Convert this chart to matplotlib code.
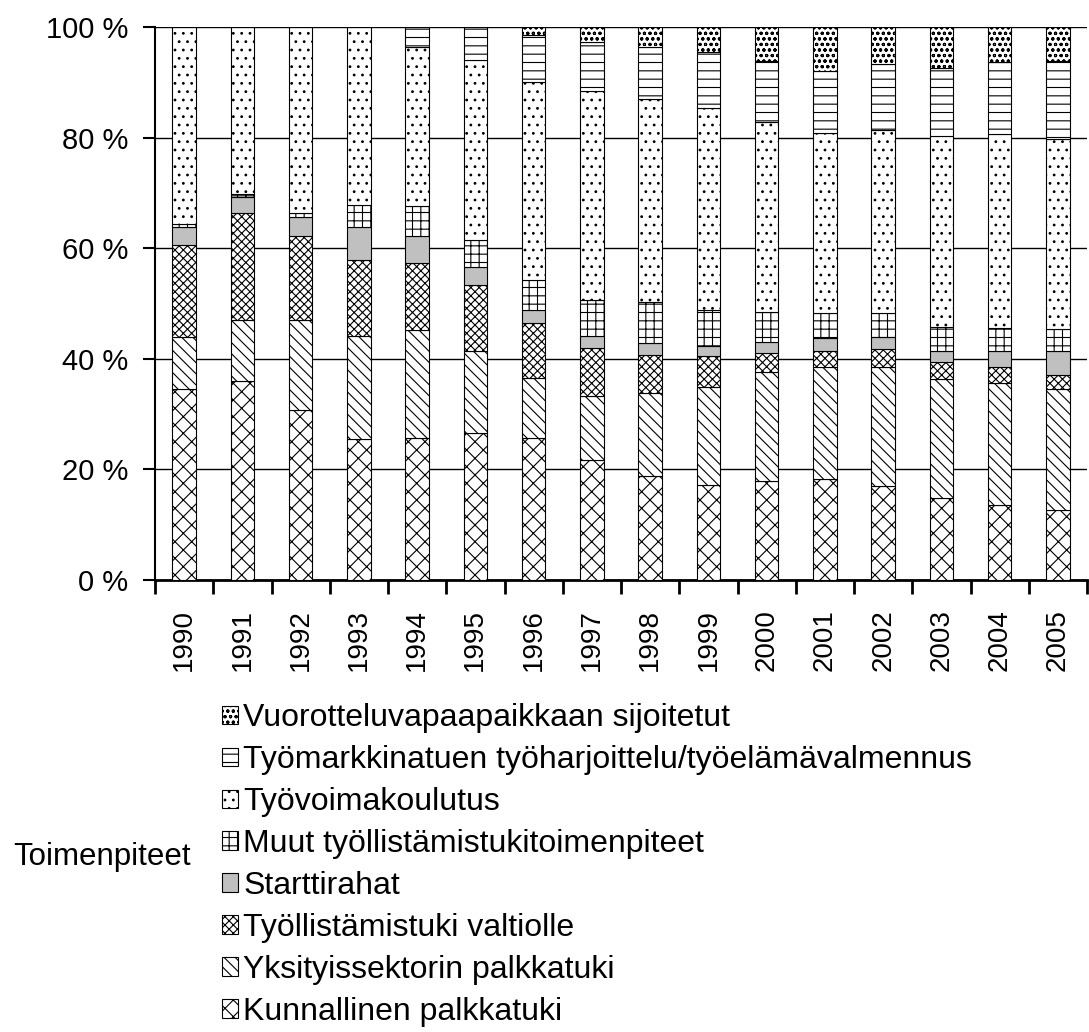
import matplotlib
matplotlib.use('Agg')
import matplotlib.pyplot as plt
import matplotlib.patches as patches
import numpy as np

plt.rcParams['font.family'] = ['Liberation Sans', 'DejaVu Sans']
plt.rcParams['hatch.linewidth'] = 0.8

years = ['1990', '1991', '1992', '1993', '1994', '1995', '1996', '1997',
         '1998', '1999', '2000', '2001', '2002', '2003', '2004', '2005']

# osuudet (%) alhaalta ylos
kunnallinen = [34.5, 36.0, 30.8, 25.5, 25.7, 26.6, 25.7, 21.7, 18.8, 17.2, 17.9, 18.3, 17.0, 14.8, 13.6, 12.6]
yksityis    = [9.5, 11.1, 16.3, 18.7, 19.5, 14.9, 10.8, 11.5, 15.0, 17.7, 19.7, 20.3, 21.6, 21.6, 22.1, 22.0]
valtiolle   = [16.5, 19.3, 15.1, 13.6, 12.2, 11.8, 10.0, 8.7, 6.8, 5.6, 3.5, 2.9, 3.2, 3.0, 2.9, 2.5]
startti     = [3.3, 2.8, 3.5, 6.0, 4.8, 3.3, 2.3, 2.2, 2.2, 1.9, 2.0, 2.3, 2.2, 2.1, 2.8, 4.4]
muut        = [0.5, 0.6, 0.6, 4.0, 5.4, 4.8, 5.5, 6.6, 7.5, 6.5, 5.3, 4.4, 4.2, 4.2, 4.1, 3.8]
koulutus    = [35.7, 30.2, 33.7, 32.2, 28.8, 32.6, 35.8, 37.8, 36.6, 36.5, 34.5, 32.7, 33.2, 34.5, 35.2, 34.5]
harjoittelu = [0.0, 0.0, 0.0, 0.0, 3.6, 6.0, 8.4, 8.8, 9.5, 10.1, 10.9, 11.2, 11.9, 12.3, 13.0, 14.0]
vuorottelu  = [0.0, 0.0, 0.0, 0.0, 0.0, 0.0, 1.5, 2.7, 3.6, 4.5, 6.2, 7.9, 6.7, 7.5, 6.3, 6.2]

labels = ['Kunnallinen palkkatuki', 'Yksityissektorin palkkatuki',
          'Työllistämistuki valtiolle', 'Starttirahat',
          'Muut työllistämistukitoimenpiteet', 'Työvoimakoulutus',
          'Työmarkkinatuen työharjoittelu/työelämävalmennus',
          'Vuorotteluvapaapaikkaan sijoitetut']
series = [kunnallinen, yksityis, valtiolle, startti, muut, koulutus, harjoittelu, vuorottelu]
hatches = ['xx', '\\\\\\', 'xxxx', '', '++', '..', '--', 'ooo']
faces = ['white', 'white', 'white', '#c0c0c0', 'white', 'white', 'white', 'white']

fig = plt.figure(figsize=(10.89, 10.32), dpi=100)
ax = fig.add_axes([155 / 1089, 1 - 580 / 1032, (1087 - 155) / 1089, 553 / 1032])

x = np.arange(len(years))
bottom = np.zeros(len(years))
handles = []
for vals, lab, h, fc in zip(series, labels, hatches, faces):
    vals = np.array(vals)
    ax.bar(x, vals, 0.4, bottom=bottom, color=fc, edgecolor='black',
           hatch=h, linewidth=0.8, zorder=3)
    bottom += vals
    handles.append(patches.Patch(facecolor=fc, edgecolor='black', hatch=h,
                                 linewidth=0.8, label=lab))

ax.set_xlim(-0.5, len(years) - 0.5)
ax.set_ylim(0, 100)
ax.set_yticks(range(0, 101, 20))
ax.set_yticklabels([f'{v} %' for v in range(0, 101, 20)], fontsize=21)
ax.yaxis.grid(True, color='black', linewidth=1.0, zorder=0)
ax.set_axisbelow(True)

ax.set_xticks(x)
ax.set_xticklabels(years, rotation=90, fontsize=20)
ax.tick_params(axis='x', which='major', length=0, pad=21)
ax.set_xticks(np.arange(-0.5, len(years), 1.0), minor=True)
ax.tick_params(axis='x', which='minor', length=10, width=2, direction='out')
ax.tick_params(axis='y', length=9, width=1.5, direction='out', pad=10)

for s in ['top', 'right']:
    ax.spines[s].set_visible(False)
ax.spines['left'].set_linewidth(1.5)
ax.spines['bottom'].set_linewidth(2)

leg = fig.legend(handles[::-1], labels[::-1], loc='upper left',
                 bbox_to_anchor=(222 / 1089, 1 - 703 / 1032), frameon=False,
                 fontsize=23, handlelength=0.5, handleheight=0.5,
                 handletextpad=0.17, labelspacing=0.375, borderpad=0,
                 borderaxespad=0)
fig.text(13 / 1089, 1 - 857 / 1032, 'Toimenpiteet', fontsize=22.5,
         ha='left', va='center')

fig.savefig('out.png', dpi=100)
